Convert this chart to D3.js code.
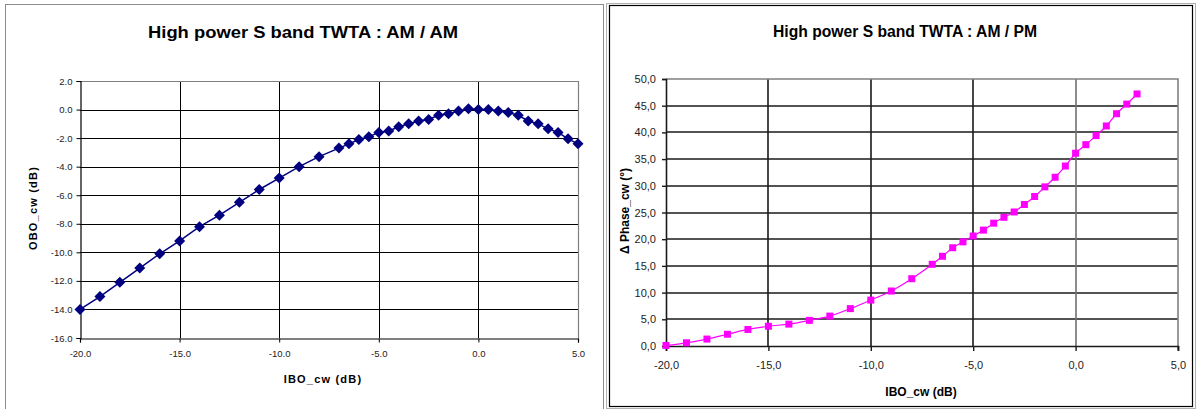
<!DOCTYPE html>
<html>
<head>
<meta charset="utf-8">
<script src="https://cdn.jsdelivr.net/npm/d3@7"></script>
<style>
  html, body { margin: 0; padding: 0; background: #fff; }
  svg { display: block; font-family: Arial, "Liberation Sans", sans-serif; }
</style>
</head>
<body>
<svg id="chart" width="1196" height="409"></svg>
<script>
// AM/AM: output back-off vs input back-off (dB)
const amamIBO = [-20, -19, -18, -17, -16, -15, -14, -13, -12, -11, -10, -9, -8, -7, -6.5, -6, -5.5, -5, -4.5, -4, -3.5, -3, -2.5, -2, -1.5, -1, -0.5, 0, 0.5, 1, 1.5, 2, 2.5, 3, 3.5, 4, 4.5, 5];
const amamOBO = [-14.0, -13.1, -12.1, -11.1, -10.1, -9.2, -8.2, -7.4, -6.5, -5.6, -4.8, -4.0, -3.3, -2.7, -2.4, -2.1, -1.9, -1.6, -1.5, -1.2, -1.0, -0.8, -0.7, -0.4, -0.3, -0.1, 0.05, 0.0, 0.0, -0.1, -0.2, -0.4, -0.8, -1.0, -1.35, -1.6, -2.05, -2.4];

// AM/PM: phase shift (degrees) vs input back-off (dB)
const ampmIBO = [-20, -19, -18, -17, -16, -15, -14, -13, -12, -11, -10, -9, -8, -7, -6.5, -6, -5.5, -5, -4.5, -4, -3.5, -3, -2.5, -2, -1.5, -1, -0.5, 0, 0.5, 1, 1.5, 2, 2.5, 3];
const ampmPhase = [0.1, 0.6, 1.3, 2.2, 3.1, 3.7, 4.1, 4.8, 5.6, 7.0, 8.6, 10.3, 12.6, 15.3, 16.8, 18.4, 19.5, 20.6, 21.7, 23.0, 24.1, 25.1, 26.5, 28.0, 29.8, 31.6, 33.7, 36.1, 37.7, 39.4, 41.2, 43.5, 45.3, 47.2];

// Tick values
const xTicks = [-20, -15, -10, -5, 0, 5];
const amamYTicks = [2, 0, -2, -4, -6, -8, -10, -12, -14, -16];
const ampmYTicks = [0, 5, 10, 15, 20, 25, 30, 35, 40, 45, 50];

const svg = d3.select("#chart");

// ---------- panel frames ----------
svg.append("rect").attr("x", 5.5).attr("y", 4.5).attr("width", 598).attr("height", 420)
  .attr("fill", "#fff").attr("stroke", "#8c8c8c").attr("stroke-width", 1);
svg.append("rect").attr("x", 606.5).attr("y", 3.5).attr("width", 589).attr("height", 405)
  .attr("fill", "none").attr("stroke", "#b0b0b0").attr("stroke-width", 1);
svg.append("rect").attr("x", 609.5).attr("y", 5.5).attr("width", 583).attr("height", 401)
  .attr("fill", "#fff").attr("stroke", "#000").attr("stroke-width", 1.2);

// ---------- left chart: AM / AM ----------
{
  const x = d3.scaleLinear().domain([-20, 5]).range([80, 578]);
  const y = d3.scaleLinear().domain([-16, 2]).range([338, 81]);
  const g = svg.append("g");

  // grid
  g.append("g").selectAll("line").data(amamYTicks.filter(v => v !== -16 && v !== 2)).join("line")
    .attr("x1", x(-20)).attr("x2", x(5))
    .attr("y1", d => Math.round(y(d)) + 0.5).attr("y2", d => Math.round(y(d)) + 0.5)
    .attr("stroke", "#000").attr("stroke-width", 1);
  g.append("g").selectAll("line").data(xTicks.filter(v => v !== -20 && v !== 5)).join("line")
    .attr("x1", d => Math.round(x(d)) + 0.5).attr("x2", d => Math.round(x(d)) + 0.5)
    .attr("y1", y(2)).attr("y2", y(-16))
    .attr("stroke", "#000").attr("stroke-width", 1);
  // plot area border (top/right)
  g.append("path")
    .attr("d", `M${x(-20)},${Math.round(y(2)) + 0.5}H${Math.round(x(5)) + 0.5}V${y(-16)}`)
    .attr("fill", "none").attr("stroke", "#808080").attr("stroke-width", 1.2);

  // axes
  const yAxis = d3.axisLeft(y).tickValues(amamYTicks).tickSize(4).tickPadding(4)
    .tickFormat(d3.format(".1f"));
  const xAxis = d3.axisBottom(x).tickValues(xTicks).tickSize(4).tickPadding(8)
    .tickFormat(d3.format(".1f"));
  const ya = g.append("g").attr("transform", `translate(${Math.round(x(-20)) + 0.5},0)`).call(yAxis);
  const xa = g.append("g").attr("transform", `translate(0,${Math.round(y(-16)) + 0.5})`).call(xAxis);
  [ya, xa].forEach(a => {
    a.select(".domain").attr("stroke", "#000").attr("stroke-width", 1.2);
    a.selectAll(".tick line").attr("stroke", "#000");
    a.selectAll("text").attr("fill", "#222").attr("font-size", 9.5)
      .attr("font-family", "Arial, 'Liberation Sans', sans-serif")
      .text(function () { return this.textContent.replace("−", "-"); });
  });

  // series
  g.append("path").datum(amamIBO.map((v, i) => [v, amamOBO[i]]))
    .attr("d", d3.line().x(d => x(d[0])).y(d => y(d[1])))
    .attr("fill", "none").attr("stroke", "#000080").attr("stroke-width", 1.5);
  g.append("g").selectAll("path").data(amamIBO.map((v, i) => [v, amamOBO[i]])).join("path")
    .attr("transform", d => `translate(${x(d[0])},${y(d[1])})`)
    .attr("d", "M0,-5.5L5.5,0L0,5.5L-5.5,0Z")
    .attr("fill", "#000080");

  // titles
  svg.append("text").attr("x", 303).attr("y", 38).attr("text-anchor", "middle")
    .attr("font-size", 17).attr("font-weight", "bold").attr("fill", "#000")
    .attr("textLength", 310).attr("lengthAdjust", "spacingAndGlyphs")
    .text("High power S band TWTA : AM / AM");
  svg.append("text").attr("x", 323).attr("y", 383).attr("text-anchor", "middle")
    .attr("font-size", 11).attr("font-weight", "bold").attr("letter-spacing", 1.2).attr("fill", "#000")
    .text("IBO_cw (dB)");
  svg.append("text").attr("transform", "translate(37,208) rotate(-90)").attr("text-anchor", "middle")
    .attr("font-size", 11).attr("font-weight", "bold").attr("letter-spacing", 1.2).attr("fill", "#000")
    .text("OBO_cw (dB)");
}

// ---------- right chart: AM / PM ----------
{
  const x = d3.scaleLinear().domain([-20, 5]).range([666, 1178]);
  const y = d3.scaleLinear().domain([0, 50]).range([346, 79]);
  const g = svg.append("g");
  const fmt = v => d3.format(".1f")(v).replace("−", "-").replace(".", ",");

  // grid
  g.append("g").selectAll("line").data(ampmYTicks.filter(v => v !== 0 && v !== 50)).join("line")
    .attr("x1", x(-20)).attr("x2", x(5))
    .attr("y1", d => Math.round(y(d))).attr("y2", d => Math.round(y(d)))
    .attr("stroke", "#1a1a1a").attr("stroke-width", 1.6);
  g.append("g").selectAll("line").data(xTicks.filter(v => v !== -20 && v !== 5)).join("line")
    .attr("x1", d => Math.round(x(d))).attr("x2", d => Math.round(x(d)))
    .attr("y1", y(50)).attr("y2", y(0))
    .attr("stroke", d => d === 0 ? "#707070" : "#1a1a1a").attr("stroke-width", 1.6);
  g.append("path")
    .attr("d", `M${x(-20)},${Math.round(y(50))}H${Math.round(x(5))}V${y(0) + 4}`)
    .attr("fill", "none").attr("stroke", "#808080").attr("stroke-width", 1.6);

  // axes
  const yAxis = d3.axisLeft(y).tickValues(ampmYTicks).tickSize(4).tickPadding(6).tickFormat(fmt);
  const xAxis = d3.axisBottom(x).tickValues(xTicks).tickSize(5).tickPadding(10).tickFormat(fmt);
  const ya = g.append("g").attr("transform", `translate(${Math.round(x(-20))},0)`).call(yAxis);
  const xa = g.append("g").attr("transform", `translate(0,${Math.round(y(0))})`).call(xAxis);
  [ya, xa].forEach(a => {
    a.select(".domain").attr("stroke", "#1a1a1a").attr("stroke-width", 1.6);
    a.selectAll(".tick line").attr("stroke", "#1a1a1a").attr("stroke-width", 1.4);
    a.selectAll("text").attr("fill", "#222").attr("font-size", 11)
      .attr("font-family", "Arial, 'Liberation Sans', sans-serif");
  });

  // series (smoothed line with square markers)
  const pts = ampmIBO.map((v, i) => [v, ampmPhase[i]]);
  g.append("path").datum(pts)
    .attr("d", d3.line().x(d => x(d[0])).y(d => y(d[1])).curve(d3.curveCatmullRom.alpha(0.5)))
    .attr("fill", "none").attr("stroke", "#ff00ff").attr("stroke-width", 1.2);
  g.append("g").selectAll("rect").data(pts).join("rect")
    .attr("x", d => x(d[0]) - 3.5).attr("y", d => y(d[1]) - 3.5)
    .attr("width", 7).attr("height", 7).attr("fill", "#ff00ff");

  // titles
  svg.append("text").attr("x", 905).attr("y", 37).attr("text-anchor", "middle")
    .attr("font-size", 16).attr("font-weight", "bold").attr("fill", "#000")
    .attr("textLength", 264).attr("lengthAdjust", "spacingAndGlyphs")
    .text("High power S band TWTA  : AM / PM");
  svg.append("text").attr("x", 921).attr("y", 396).attr("text-anchor", "middle")
    .attr("font-size", 12).attr("font-weight", "bold").attr("fill", "#000")
    .text("IBO_cw (dB)");
  svg.append("text").attr("transform", "translate(629,211) rotate(-90)").attr("text-anchor", "middle")
    .attr("font-size", 12).attr("font-weight", "bold").attr("fill", "#000")
    .text("\u0394 Phase_cw (°)");
}
</script>
</body>
</html>
